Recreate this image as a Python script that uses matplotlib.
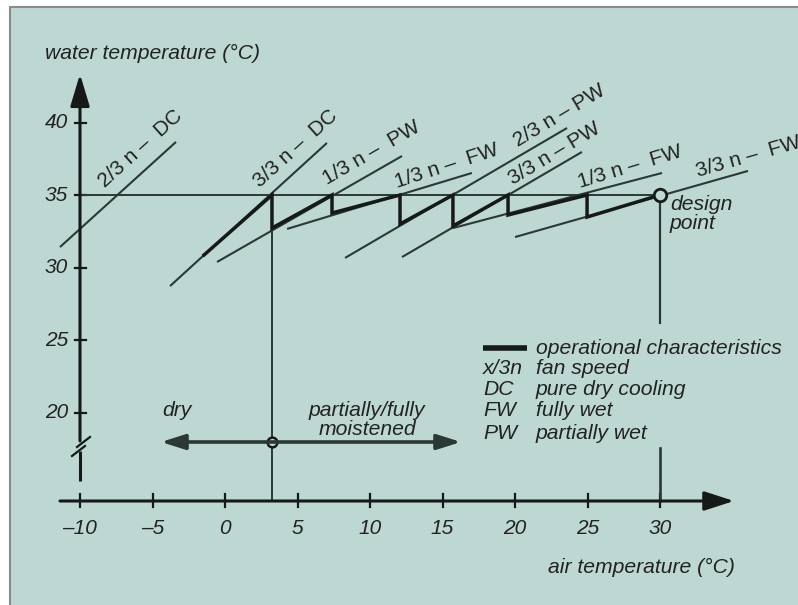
import numpy as np
import matplotlib
matplotlib.use("Agg")
import matplotlib.pyplot as plt
from matplotlib.patches import Rectangle

plt.rcParams['font.family'] = ['Liberation Sans', 'DejaVu Sans']

# characteristic lines: (air start, water start, air end, water end)
line_names = ["2/3 n –  DC", "3/3 n –  DC", "1/3 n –  PW", "1/3 n –  FW",
              "2/3 n – PW", "3/3 n – PW", "1/3 n –  FW", "3/3 n –  FW"]
air_start = [-11.38, -3.79, -0.55, 4.28, 8.28, 12.21, 15.72, 20.00]
water_start = [31.41, 28.72, 30.38, 32.66, 30.66, 30.72, 32.72, 32.10]
air_end = [-3.38, 7.03, 12.21, 17.03, 23.59, 24.62, 30.14, 36.07]
water_end = [38.66, 38.59, 37.69, 36.52, 39.62, 37.97, 36.52, 36.66]

# label anchor and angle for every line
label_air = [-8.28, 2.41, 7.03, 11.86, 20.21, 19.86, 24.48, 32.62]
label_water = [35.48, 35.48, 35.69, 35.48, 38.31, 35.69, 35.48, 36.24]
label_angle = [42, 42, 30, 18, 31, 31, 17, 16]

# operational characteristic (thick saw-tooth path)
op_air = [-1.45, 3.24, 3.24, 7.38, 7.38, 12.07, 12.07, 15.72, 15.72,
          19.52, 19.52, 24.97, 24.97, 30.0]
op_water = [30.86, 35.0, 32.72, 35.0, 33.76, 35.0, 33.0, 35.0, 32.86,
            35.0, 33.62, 35.0, 33.48, 35.0]

design_air, design_water = 30.0, 35.0
switch_air = 3.24          # dry / wet switch point
x_ticks = [-10, -5, 0, 5, 10, 15, 20, 25, 30]
y_ticks = [20, 25, 30, 35, 40]

legend_keys = ["x/3n", "DC", "FW", "PW"]
legend_text = ["fan speed", "pure dry cooling", "fully wet", "partially wet"]

# pixel scale of the sketch: 14.5 px per degree, 35 °C water / 0 °C air
S = 14.5
def px(p):
    return (p - 225) / S
def py(p):
    return 35 - (p - 195) / S

bg = "#bdd8d3"
ink = "#2b3836"
dark = "#151a19"
txt_c = "#222222"
fs = 15.2

fig = plt.figure(figsize=(7.98, 6.05), dpi=100)
fig.patch.set_facecolor("white")
ax = fig.add_axes([0, 0, 1, 1])
ax.set_xlim(px(0), px(798))
ax.set_ylim(py(605), py(0))
ax.axis("off")

ax.add_patch(Rectangle((px(10), py(640)), px(820) - px(10), py(7) - py(640),
                       facecolor=bg, edgecolor="#8a8a8a", lw=1.5, zorder=0))

x_axis_y = py(501)
axis_x = -10

# axes with arrow heads
ax.annotate("", xy=(px(734), x_axis_y), xytext=(px(60), x_axis_y),
            arrowprops=dict(arrowstyle="-|>,head_length=1.3,head_width=0.42",
                            mutation_scale=14, lw=2.2, color=dark,
                            shrinkA=0, shrinkB=0))
ax.annotate("", xy=(axis_x, py(74)), xytext=(axis_x, py(441)),
            arrowprops=dict(arrowstyle="-|>,head_length=1.4,head_width=0.42",
                            mutation_scale=14, lw=2.2, color=dark,
                            shrinkA=0, shrinkB=0))
ax.plot([axis_x, axis_x], [py(451), py(481)], color=dark, lw=2.2,
        solid_capstyle="butt")
# break marks
ax.plot([px(77), px(90)], [py(447), py(437)], color=dark, lw=1.6)
ax.plot([px(72), px(85)], [py(456), py(446)], color=dark, lw=1.6)

for t in x_ticks:
    ax.plot([t, t], [py(494), py(507)], color=dark, lw=1.6)
    ax.text(t, py(529), str(t).replace("-", "–"), ha="center", va="center",
            fontsize=15, style="italic", color=txt_c)
for t in y_ticks:
    ax.plot([px(75), px(86)], [t, t], color=dark, lw=1.6)
    ax.text(px(68), t, str(t), ha="right", va="center",
            fontsize=15, style="italic", color=txt_c)

ax.text(px(45), py(53), "water temperature (°C)", ha="left", va="center",
        fontsize=fs, style="italic", color=txt_c)
ax.text(px(548), py(567), "air temperature (°C)", ha="left", va="center",
        fontsize=fs, style="italic", color=txt_c)

# guide lines
ax.plot([axis_x, design_air], [35, 35], color=ink, lw=1.4)
ax.plot([switch_air, switch_air], [35, x_axis_y], color=ink, lw=1.4)
ax.plot([design_air, design_air], [35, py(323)], color=ink, lw=1.6)
ax.plot([design_air, design_air], [py(448), x_axis_y], color=ink, lw=1.9)

# characteristic lines and labels
for i in range(len(line_names)):
    ax.plot([air_start[i], air_end[i]], [water_start[i], water_end[i]],
            color=ink, lw=1.5, solid_capstyle="butt")
    ax.text(label_air[i], label_water[i], line_names[i], rotation=label_angle[i],
            rotation_mode="anchor", ha="left", va="baseline",
            fontsize=15, color=txt_c)

ax.plot(op_air, op_water, color=dark, lw=2.5, solid_joinstyle="miter")
ax.plot(design_air, design_water, "o", ms=9, mfc=bg, mec=dark, mew=2.0)
ax.text(px(670), py(214), "design\npoint", ha="left", va="center",
        fontsize=fs, style="italic", color=txt_c, linespacing=0.95)

# dry / wet range arrow
ax.annotate("", xy=(px(161), py(442)), xytext=(px(461), py(442)),
            arrowprops=dict(arrowstyle="<|-|>,head_length=1.2,head_width=0.38",
                            mutation_scale=12, lw=2.6, color=ink,
                            shrinkA=0, shrinkB=0))
ax.plot(switch_air, py(442), "o", ms=7, mfc=bg, mec=dark, mew=1.8)
ax.text(px(177), py(410), "dry", ha="center", va="center",
        fontsize=fs, style="italic", color=txt_c)
ax.text(px(367), py(420), "partially/fully\nmoistened", ha="center",
        va="center", fontsize=fs, style="italic", color=txt_c,
        linespacing=0.95)

# legend block
ax.plot([px(483), px(527)], [py(348), py(348)], color=dark, lw=4,
        solid_capstyle="butt")
ax.text(px(536), py(348), "operational characteristics", ha="left",
        va="center", fontsize=fs, style="italic", color=txt_c)
rows = [368, 389, 411, 433]
for k, txt, r in zip(legend_keys, legend_text, rows):
    ax.text(px(483), py(r), k, ha="left", va="center", fontsize=fs,
            style="italic", color=txt_c)
    ax.text(px(536), py(r), txt, ha="left", va="center", fontsize=fs,
            style="italic", color=txt_c)

fig.savefig("out.png", dpi=100, facecolor="white")
